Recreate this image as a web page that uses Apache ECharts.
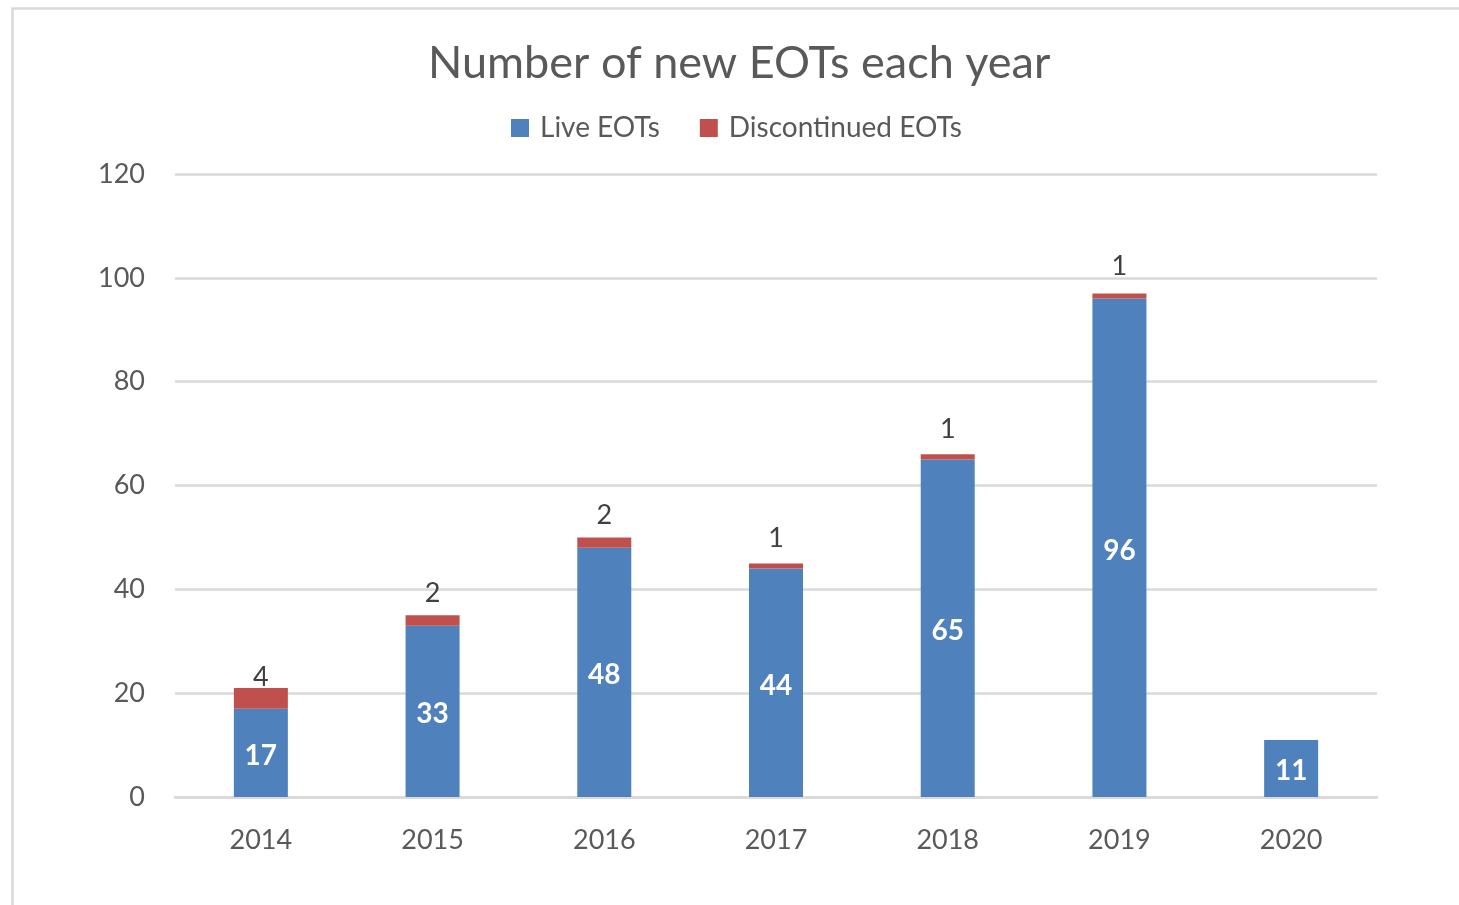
<!DOCTYPE html>
<html><head><meta charset="utf-8">
<script src="https://cdn.jsdelivr.net/npm/echarts@6/dist/echarts.min.js"></script>
<style>html,body{margin:0;padding:0;background:#fff;overflow:hidden}#c{width:1459px;height:905px}</style>
</head><body><div id="c"></div>
<script>
const years = ['2014','2015','2016','2017','2018','2019','2020'];
const liveEOTs = [17, 33, 48, 44, 65, 96, 11];
const discontinuedEOTs = [4, 2, 2, 1, 1, 1, 0];
const yTicks = [0, 20, 40, 60, 80, 100, 120];

const FONT = 'Lato';
// label gap above the red segment (style only)
const topLabelGap = [-3, 8, 9, 12, 12, 14, 0];

const chart = echarts.init(document.getElementById('c'));
chart.setOption({
  animation: false,
  backgroundColor: '#fff',
  graphic: [{
    type: 'rect', left: 10, top: 6, silent: true,
    shape: { width: 2000, height: 2000 },
    style: { fill: 'none', stroke: '#d9d9d9', lineWidth: 2.5 }
  }],
  title: {
    text: 'Number of new EOTs each year', left: 423, top: 36,
    textStyle: { fontFamily: FONT, fontSize: 45, fontWeight: 'normal', color: '#595959' }
  },
  legend: {
    top: 109, left: 506, itemWidth: 18, itemHeight: 18, itemGap: 40,
    icon: 'rect',
    textStyle: { fontFamily: FONT, fontSize: 28, color: '#595959', padding: [0, 0, 0, 6] },
    data: ['Live EOTs', 'Discontinued EOTs']
  },
  grid: { left: 175, right: 82, top: 174, bottom: 108, containLabel: false },
  xAxis: {
    type: 'category', data: years,
    axisLine: { lineStyle: { color: '#d9d9d9', width: 2.5 } },
    axisTick: { show: false },
    axisLabel: { fontFamily: FONT, fontSize: 27, color: '#595959', margin: 30 }
  },
  yAxis: {
    type: 'value', min: yTicks[0], max: yTicks[yTicks.length - 1], interval: 20,
    axisLine: { show: false }, axisTick: { show: false },
    splitLine: { lineStyle: { color: '#d9d9d9', width: 2.5 } },
    axisLabel: { fontFamily: FONT, fontSize: 27, color: '#595959', margin: 30 }
  },
  series: [
    {
      name: 'Live EOTs', type: 'bar', stack: 'a', barWidth: 54, data: liveEOTs,
      itemStyle: { color: '#4f81bd' },
      label: { show: true, position: 'inside', offset: [0, 3], fontFamily: FONT, fontSize: 28, fontWeight: 'bold', color: '#fff' }
    },
    {
      name: 'Discontinued EOTs', type: 'bar', stack: 'a', barWidth: 54,
      data: discontinuedEOTs.map((v, i) => ({ value: v, label: { distance: topLabelGap[i] } })),
      itemStyle: { color: '#c0504d' },
      label: {
        show: true, position: 'top', fontFamily: FONT, fontSize: 27, color: '#404040',
        formatter: p => p.value ? String(p.value) : ''
      }
    }
  ]
});
</script></body></html>
